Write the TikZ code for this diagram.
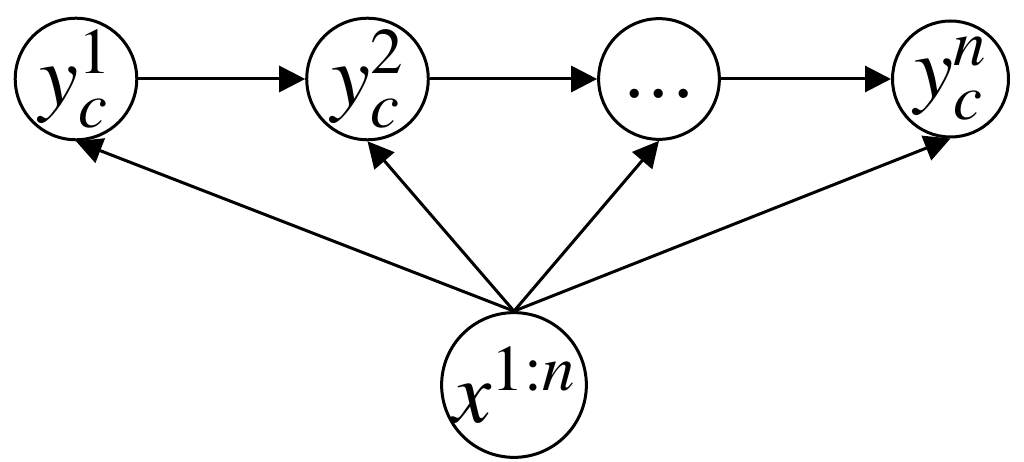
\documentclass[tikz,border=0pt]{standalone}
\usepackage{amsmath,amssymb}
\usepackage{mathptmx}
\usepackage{tikz}
\usetikzlibrary{positioning,arrows.meta,automata}

\begin{document}
\begin{tikzpicture}[->,>={Triangle[length=0.52cm,width=0.52cm]},line width=0.06cm,
                    node distance=5.83cm]
  \tikzstyle{every state}=[draw=black,text=black,line width=0.06cm,minimum size=2.32cm,
                           inner sep=0pt,font=\fontsize{50}{55}\selectfont]
  \useasboundingbox (-1.52,1.58) rectangle (18.96,-7.66);

  \node[state]            (Y1)                  {$y_c^1$};
  \node[state]            (Y2) [right of=Y1]    {$y_c^2$};
  \node[state]            (D)  [right of=Y2]    {\strut$...$};
  \node[state]            (Yn) [right of=D]     {$y_c^n$};
  \node[state]            (X)  at (8.76,-6.12)  {$x^{1:n}$};

  \path (Y1) edge (Y2)
        (Y2) edge (D)
        (D)  edge (Yn)
        (X.north) edge (Y1.south)
                  edge (Y2.south)
                  edge (D.south)
                  edge (Yn.south);
\end{tikzpicture}
\end{document}
